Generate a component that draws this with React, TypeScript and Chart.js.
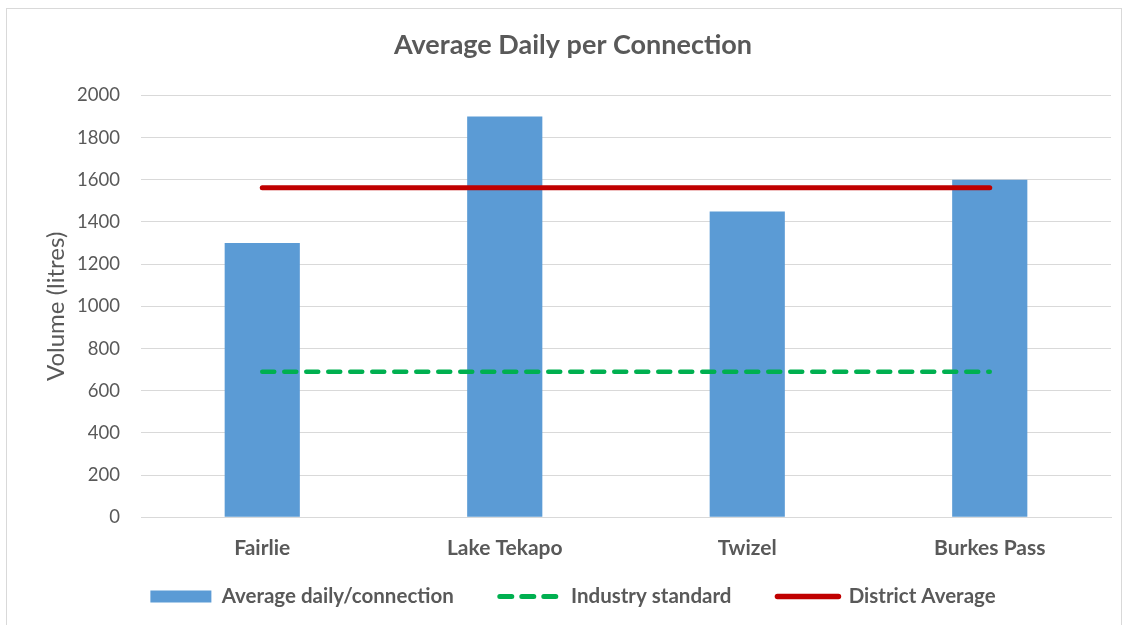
import React, { useEffect, useRef } from "react";
import { Chart, registerables } from "chart.js";

Chart.register(...registerables);

const categories = ["Fairlie", "Lake Tekapo", "Twizel", "Burkes Pass"];
const averageDaily = [1300, 1900, 1450, 1600];
const industryStandard = [690, 690, 690, 690];
const districtAverage = [1562, 1562, 1562, 1562];

const FONT = "Lato, 'Open Sans', sans-serif";
const TEXT = "#595959";

// Pull the legend row up closer to the category labels while keeping
// wide horizontal spacing between legend entries.
const legendOffset = {
  id: "legendOffset",
  afterLayout(chart: any) {
    const legend = chart.legend;
    if (!legend) return;
    const h = legend.height;
    legend.top = chart.chartArea.bottom + 23;
    legend.bottom = legend.top + h;
  },
};

export default function App() {
  const canvasRef = useRef<HTMLCanvasElement | null>(null);

  useEffect(() => {
    if (!canvasRef.current) return;
    const chart = new Chart(canvasRef.current, {
      type: "bar",
      data: {
        labels: categories,
        datasets: [
          {
            type: "bar",
            label: "Average daily/connection",
            data: averageDaily,
            backgroundColor: "#5B9BD5",
            borderWidth: 0,
            categoryPercentage: 1,
            barPercentage: 0.31,
            order: 3,
          },
          {
            type: "line",
            label: "Industry standard",
            data: industryStandard,
            borderColor: "#00B050",
            backgroundColor: "#00B050",
            borderWidth: 4.5,
            borderDash: [12, 10],
            borderCapStyle: "round",
            pointRadius: 0,
            order: 2,
          },
          {
            type: "line",
            label: "District Average",
            data: districtAverage,
            borderColor: "#C00000",
            backgroundColor: "#C00000",
            borderWidth: 5,
            borderCapStyle: "round",
            pointRadius: 0,
            order: 1,
          },
        ],
      },
      plugins: [legendOffset],
      options: {
        responsive: false,
        animation: false,
        layout: { padding: { left: 28, right: 10, top: 0, bottom: 12 } },
        plugins: {
          title: {
            display: true,
            text: "Average Daily per Connection",
            color: TEXT,
            font: { family: FONT, size: 27, weight: "bold" },
            padding: { top: 20, bottom: 34 },
          },
          tooltip: { enabled: false },
          legend: {
            position: "bottom",
            labels: {
              color: TEXT,
              font: { family: FONT, size: 20.5, weight: "bold" },
              usePointStyle: true,
              pointStyleWidth: 61,
              boxHeight: 12,
              padding: 46,
              sort: (a: any, b: any) => a.datasetIndex - b.datasetIndex,
              generateLabels: (c: Chart) => {
                const items = Chart.defaults.plugins.legend.labels.generateLabels(c);
                return items.map((item: any) => {
                  const i = item.datasetIndex;
                  if (i === 0) {
                    return { ...item, pointStyle: "rect", lineWidth: 0 };
                  }
                  return {
                    ...item,
                    pointStyle: "line",
                    lineWidth: i === 1 ? 5 : 5.5,
                    lineCap: "round",
                    lineDash: i === 1 ? [12, 10] : [],
                  };
                });
              },
            },
          },
        },
        scales: {
          x: {
            grid: { display: false, drawTicks: false },
            border: { color: "#d9d9d9", width: 1 },
            ticks: {
              color: TEXT,
              font: { family: FONT, size: 21, weight: "bold" },
              padding: 18,
            },
          },
          y: {
            min: 0,
            max: 2000,
            ticks: {
              stepSize: 200,
              color: TEXT,
              font: { family: FONT, size: 18.5 },
              padding: 21,
              callback: (v: any) => String(v),
            },
            grid: { color: "#d9d9d9", drawTicks: false },
            border: { display: false },
            title: {
              display: true,
              text: "Volume (litres)",
              color: TEXT,
              font: { family: FONT, size: 24 },
              padding: { top: 7, bottom: 0 },
            },
            afterFit: (scale: any) => {
              scale.width = 106;
            },
          },
        },
      },
    });
    return () => chart.destroy();
  }, []);

  return (
    <div
      style={{
        position: "absolute",
        left: 6,
        top: 8,
        width: 1116,
        height: 617,
        borderLeft: "1px solid #d9d9d9",
        borderTop: "1px solid #d9d9d9",
        borderRight: "1px solid #d9d9d9",
        boxSizing: "border-box",
        overflow: "hidden",
        background: "#fff",
      }}
    >
      <canvas ref={canvasRef} width={1114} height={658} style={{ display: "block" }} />
    </div>
  );
}
